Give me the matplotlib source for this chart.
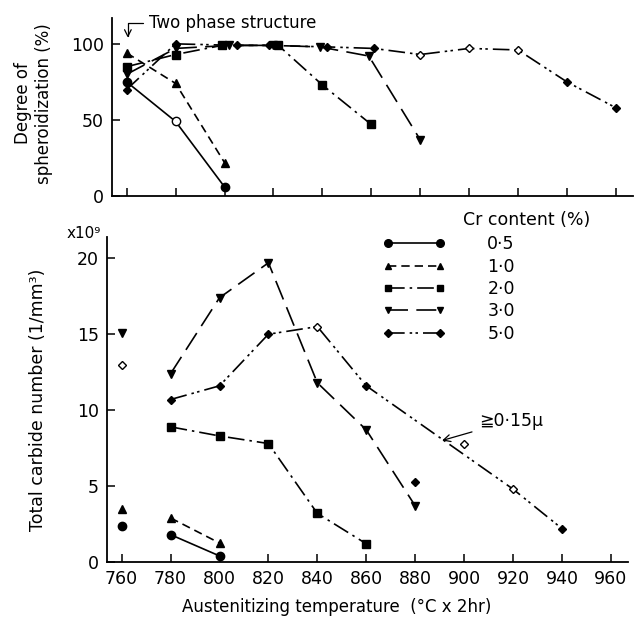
import matplotlib
matplotlib.use('Agg')
import matplotlib.pyplot as plt
from matplotlib.lines import Line2D

plt.rcParams['font.family'] = ['DejaVu Sans']

# Austenitizing temperatures (°C)
ticks_t = [760, 780, 800, 820, 840, 860, 880, 900, 920, 940, 960]

# Degree of spheroidization (%) -- upper panel
sph_05_t = [760, 780, 800]
sph_05 = [75, 49, 6]
sph_10_t = [760, 780, 800]
sph_10 = [94, 74, 22]
sph_20_t = [760, 780, 799, 822, 840, 860]
sph_20 = [85, 93, 99, 99, 73, 47]
sph_30_t = [760, 780, 802, 820, 839, 859, 880]
sph_30 = [80, 97, 99, 99, 98, 92, 37]
sph_50_t = [760, 780, 805, 818, 842, 861, 880, 900, 920, 940, 960]
sph_50 = [70, 100, 99, 99, 98, 97, 93, 97, 96, 75, 58]

# Total carbide number (x10^9 1/mm3) -- lower panel, connected points
cnt_05_t = [780, 800]
cnt_05 = [1.8, 0.4]
cnt_10_t = [780, 800]
cnt_10 = [2.9, 1.25]
cnt_20_t = [780, 800, 820, 840, 860]
cnt_20 = [8.9, 8.3, 7.8, 3.2, 1.2]
cnt_30_t = [780, 800, 820, 840, 860, 880]
cnt_30 = [12.4, 17.4, 19.7, 11.8, 8.7, 3.7]
cnt_50_t = [780, 800, 820, 840, 860, 920, 940]
cnt_50 = [10.7, 11.6, 15.0, 15.5, 11.6, 4.8, 2.2]

# isolated (unconnected) points
iso_05_t, iso_05 = [760], [2.4]
iso_10_t, iso_10 = [760], [3.5]
iso_30_t, iso_30 = [760], [15.1]
iso_50_t, iso_50 = [760, 880, 900], [13.0, 5.3, 7.8]

# open (hollow) markers, by temperature
open_top = {'0·5': [780], '5·0': [880, 900, 920]}
open_bot = {'5·0': [760, 840, 900, 920]}

cr_labels = ['0·5', '1·0', '2·0', '3·0', '5·0']
markers = {'0·5': 'o', '1·0': '^', '2·0': 's', '3·0': 'v', '5·0': 'D'}
msizes = {'0·5': 6, '1·0': 5.5, '2·0': 5.5, '3·0': 5.5, '5·0': 4.5}
styles = {'0·5': '-',
          '1·0': (0, (5, 3)),
          '2·0': (0, (10, 3, 1.5, 3)),
          '3·0': (0, (12, 5)),
          '5·0': (0, (10, 3, 1.5, 2, 1.5, 3))}

fig = plt.figure(figsize=(6.41, 6.25), dpi=100)
ax1 = fig.add_axes([0.1747, 0.6864, 0.8128, 0.2848])
ax2 = fig.add_axes([0.1669, 0.1008, 0.8128, 0.52])


def draw(ax, lab, t, v, opens):
    ax.plot(t, v, color='black', lw=1.2, linestyle=styles[lab])
    for x, y in zip(t, v):
        fc = 'white' if x in opens else 'black'
        ax.plot([x], [y], marker=markers[lab], ms=msizes[lab], color='black',
                mfc=fc, mew=1.0, linestyle='none')


top = {'0·5': (sph_05_t, sph_05), '1·0': (sph_10_t, sph_10),
       '2·0': (sph_20_t, sph_20), '3·0': (sph_30_t, sph_30),
       '5·0': (sph_50_t, sph_50)}
for lab in cr_labels:
    t, v = top[lab]
    draw(ax1, lab, t, v, open_top.get(lab, []))

bot = {'0·5': (cnt_05_t, cnt_05), '1·0': (cnt_10_t, cnt_10),
       '2·0': (cnt_20_t, cnt_20), '3·0': (cnt_30_t, cnt_30),
       '5·0': (cnt_50_t, cnt_50)}
for lab in cr_labels:
    t, v = bot[lab]
    draw(ax2, lab, t, v, open_bot.get(lab, []))

iso = {'0·5': (iso_05_t, iso_05), '1·0': (iso_10_t, iso_10),
       '3·0': (iso_30_t, iso_30), '5·0': (iso_50_t, iso_50)}
for lab, (t, v) in iso.items():
    for x, y in zip(t, v):
        fc = 'white' if x in open_bot.get(lab, []) else 'black'
        ax2.plot([x], [y], marker=markers[lab], ms=msizes[lab], color='black',
                 mfc=fc, mew=1.0, linestyle='none')

for ax in (ax1, ax2):
    ax.set_xlim(754, 967)
    ax.set_xticks(ticks_t)
    ax.spines['top'].set_visible(False)
    ax.spines['right'].set_visible(False)
    ax.spines['left'].set_linewidth(1.3)
    ax.spines['bottom'].set_linewidth(1.3)
    ax.tick_params(direction='in', length=6, width=1.1, labelsize=12.5, pad=6)

ax1.set_ylim(0, 117)
ax1.set_yticks([0, 50, 100])
ax1.tick_params(axis='x', labelbottom=False)
ax1.set_ylabel('Degree of\nspheroidization (%)', fontsize=12)
ax1.yaxis.set_label_coords(-0.114, 0.52)

ax2.set_ylim(0, 21.4)
ax2.set_yticks([0, 5, 10, 15, 20])
ax2.set_ylabel('Total carbide number (1/mm³)', fontsize=12.5)
ax2.yaxis.set_label_coords(-0.115, 0.5)
ax2.set_xlabel('Austenitizing temperature  (°C x 2hr)', fontsize=12)
ax2.xaxis.set_label_coords(0.44, -0.11)
ax2.text(-0.045, 1.012, 'x10⁹', transform=ax2.transAxes, fontsize=11,
         ha='center', va='center')

ax1.annotate('Two phase structure', xy=(760.5, 104), xytext=(769, 113.5),
             ha='left', va='center', fontsize=12,
             arrowprops=dict(arrowstyle='->,head_length=0.4,head_width=0.2',
                             connectionstyle='angle,angleA=0,angleB=90,rad=0',
                             color='black', lw=0.9, shrinkA=2, shrinkB=0))

ax2.annotate('≧0·15μ', xy=(891, 8.0), xytext=(906, 9.3),
             ha='left', va='center', fontsize=12.5,
             arrowprops=dict(arrowstyle='->,head_length=0.4,head_width=0.2',
                             color='black', lw=0.9, shrinkA=3, shrinkB=0))

handles = [Line2D([], [], color='black', lw=1.2, linestyle=styles[lab],
                  marker=markers[lab], ms=msizes[lab] - 0.5)
           for lab in cr_labels]
ax2.legend(handles, cr_labels, loc='upper left', bbox_to_anchor=(0.53, 1.005),
           frameon=False, numpoints=2, handlelength=3.6, handletextpad=2.4,
           labelspacing=0.25, borderpad=0, borderaxespad=0, fontsize=12.5)
ax2.text(0.683, 1.052, 'Cr content (%)', transform=ax2.transAxes,
         fontsize=12.5, ha='left', va='center')

fig.savefig('out.png', dpi=100)
